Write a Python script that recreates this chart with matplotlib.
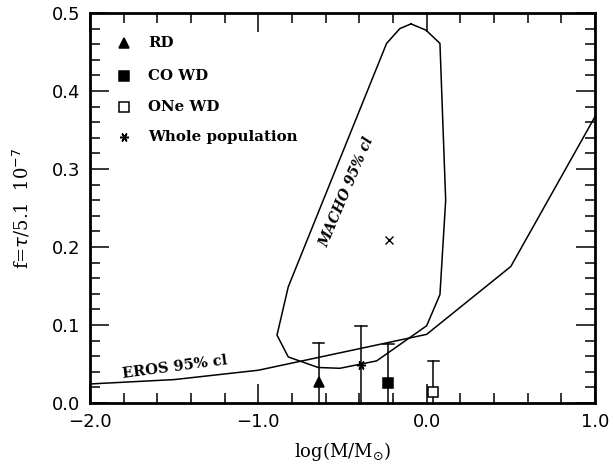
import matplotlib
matplotlib.use("Agg")
import matplotlib.pyplot as plt
from matplotlib.ticker import MultipleLocator

# MACHO 95% cl contour (closed)
macho_x = [-0.093, -0.004, 0.079, 0.113, 0.079, 0.0, -0.297, -0.515, -0.644,
           -0.822, -0.889, -0.822, -0.238, -0.159, -0.093]
macho_y = [0.486, 0.478, 0.461, 0.260, 0.139, 0.099, 0.054, 0.0445, 0.0455,
           0.0590, 0.087, 0.149, 0.461, 0.480, 0.486]

# EROS 95% cl limit
eros_x = [-2.0, -1.5, -1.0, 0.0, 0.5, 1.0]
eros_y = [0.0244, 0.030, 0.042, 0.088, 0.175, 0.367]

# populations: value and upper error bar end
pop_names = ["RD", "CO WD", "ONe WD", "Whole population"]
pop_x = [-0.64, -0.228, 0.04, -0.39]
pop_y = [0.027, 0.025, 0.0145, 0.049]
pop_top = [0.0765, 0.075, 0.054, 0.099]

macho_best = (-0.222, 0.209)

font = "DejaVu Serif"

fig = plt.figure(figsize=(6.13, 4.72), dpi=100)
ax = fig.add_axes([0.1468, 0.1462, 0.8238, 0.8263])

ax.plot(macho_x, macho_y, color="black", lw=1.1)
ax.plot(eros_x, eros_y, color="black", lw=1.1)

# error bars: from axis up to the upper value, cap on top
for x, top in zip(pop_x, pop_top):
    ax.plot([x, x], [0, top], color="black", lw=1.1)
    ax.plot([x - 0.033, x + 0.033], [top, top], color="black", lw=1.1)

styles = [
    dict(marker="^", mfc="black", mec="black"),
    dict(marker="s", mfc="black", mec="black"),
    dict(marker="s", mfc="white", mec="black"),
    dict(marker=(6, 2, 90), mfc="black", mec="black"),
]
for x, y, st in zip(pop_x, pop_y, styles):
    ax.plot([x], [y], ls="none", ms=6.5, mew=1.1, zorder=3, **st)

ax.plot([macho_best[0]], [macho_best[1]], marker="x", color="black", ms=6, mew=1.0)

# legend drawn by hand
leg_y = [0.4615, 0.419, 0.3795, 0.341]
for name, y, st in zip(pop_names, leg_y, styles):
    ax.plot([-1.80], [y], ls="none", ms=6.5, mew=1.1, **st)
    ax.text(-1.656, y, name, fontsize=10.8, fontfamily=font, fontweight="bold",
            va="center", ha="left")

ax.text(-0.477, 0.2705, "MACHO 95% cl", fontsize=10, fontfamily=font,
        fontweight="bold", style="italic", rotation=67, ha="center", va="center")
ax.text(-1.495, 0.046, "EROS 95% cl", fontsize=10.5, fontfamily=font,
        fontweight="bold", rotation=7.5, ha="center", va="center")

ax.set_xlim(-2.0, 1.0)
ax.set_ylim(0.0, 0.5)
ax.xaxis.set_minor_locator(MultipleLocator(0.2))
ax.yaxis.set_minor_locator(MultipleLocator(0.02))
ax.set_xticks([-2.0, -1.0, 0.0, 1.0])
ax.set_xticklabels(["\u22122.0", "\u22121.0", "0.0", "1.0"])
ax.set_yticks([0.0, 0.1, 0.2, 0.3, 0.4, 0.5])
ax.set_yticklabels(["0.0", "0.1", "0.2", "0.3", "0.4", "0.5"])
ax.tick_params(which="both", direction="in", top=True, right=True, width=1.1)
ax.tick_params(which="major", length=14, labelsize=13, pad=7)
ax.tick_params(which="minor", length=7)
for s in ax.spines.values():
    s.set_linewidth(2)

ax.set_xlabel(r"log(M/M$_{\odot}$)", fontsize=13, fontfamily=font, labelpad=7)
ax.set_ylabel(r"f=$\tau$/5.1  10$^{-7}$", fontsize=13, fontfamily=font, labelpad=14)

fig.savefig("out.png", dpi=100)
